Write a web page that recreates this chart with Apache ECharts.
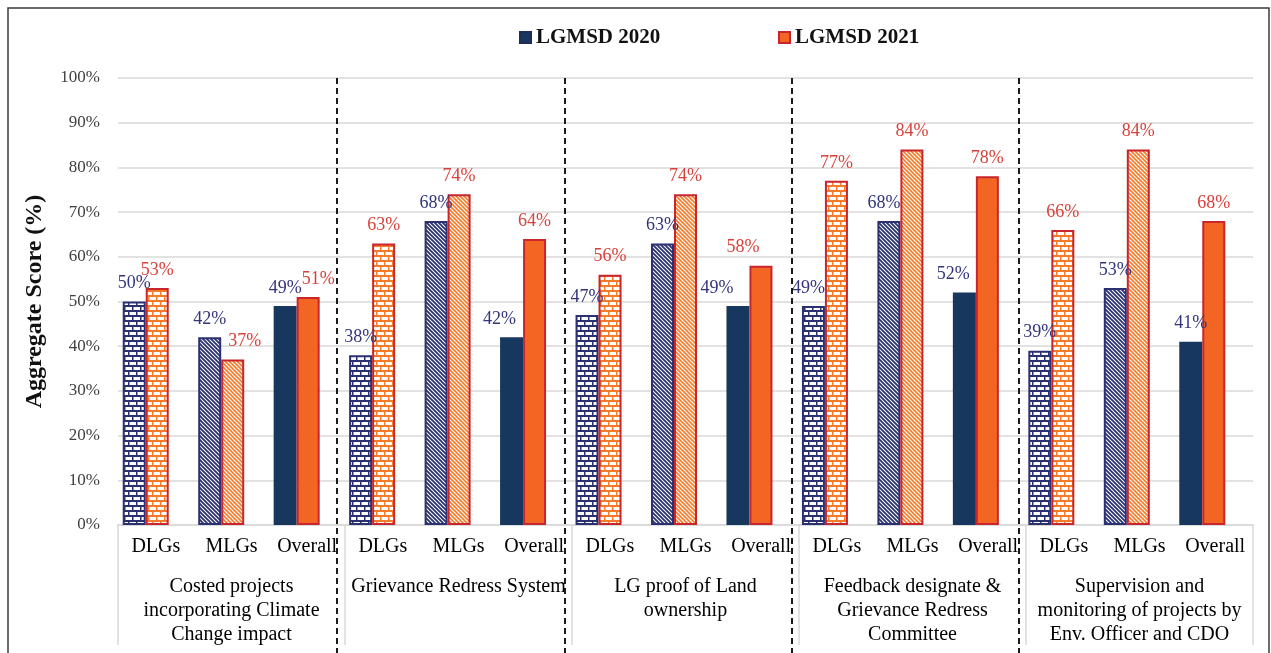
<!DOCTYPE html>
<html>
<head>
<meta charset="utf-8">
<script src="https://cdn.jsdelivr.net/npm/echarts@6/dist/echarts.min.js"></script>
<style>
html,body{margin:0;padding:0;background:#fff;}
#chart{width:1271px;height:653px;}
</style>
</head>
<body>
<div id="chart"></div>
<script>
// ---------- DATA ----------
const subCategories = ['DLGs','MLGs','Overall','DLGs','MLGs','Overall','DLGs','MLGs','Overall','DLGs','MLGs','Overall','DLGs','MLGs','Overall'];
const groupCategories = [
  'Costed projects\nincorporating Climate\nChange impact',
  'Grievance Redress System',
  'LG proof of Land\nownership',
  'Feedback designate &\nGrievance Redress\nCommittee',
  'Supervision and\nmonitoring of projects by\nEnv. Officer and CDO'
];
const seriesNames = ['LGMSD 2020', 'LGMSD 2021'];
const lgmsd2020 = [50, 42, 49, 38, 68, 42, 47, 63, 49, 49, 68, 52, 39, 53, 41];
const lgmsd2021 = [53, 37, 51, 63, 74, 64, 56, 74, 58, 77, 84, 78, 66, 84, 68];
const yTicks = [0, 10, 20, 30, 40, 50, 60, 70, 80, 90, 100];

// ---------- STYLE ----------
const FONT = "'Liberation Serif', 'DejaVu Serif', serif";
const NAVY = '#17375e', NAVY_LINE = '#2b3170', NAVY_LABEL = '#33357c';
const ORANGE = '#f26522', ORANGE_LINE = '#f47b2a', RED = '#c9252c', RED_LABEL = '#d8413b';

function brick(lineColor) {
  const c = document.createElement('canvas'); c.width = 8; c.height = 10;
  const g = c.getContext('2d');
  g.fillStyle = '#fff'; g.fillRect(0, 0, 8, 10);
  g.fillStyle = lineColor;
  g.fillRect(0, 0, 8, 2); g.fillRect(0, 5, 8, 2);
  g.fillRect(0, 2, 1.5, 3); g.fillRect(4, 7, 1.5, 3);
  return { image: c, repeat: 'repeat' };
}
function hatch(lineColor, w) {
  const c = document.createElement('canvas'); c.width = 4; c.height = 4;
  const g = c.getContext('2d');
  g.fillStyle = '#fff'; g.fillRect(0, 0, 4, 4);
  g.strokeStyle = lineColor; g.lineWidth = w;
  g.beginPath();
  g.moveTo(-1, -1); g.lineTo(5, 5);
  g.moveTo(-1, 3); g.lineTo(1, 5);
  g.moveTo(3, -1); g.lineTo(5, 1);
  g.stroke();
  return { image: c, repeat: 'repeat' };
}
const patterns2020 = [brick(NAVY_LINE), hatch(NAVY_LINE, 1.8), null];
const patterns2021 = [brick(ORANGE_LINE), hatch(ORANGE_LINE, 1.6), null];

// small manual label shifts seen in the reference (x offset px)
const labelShift2020 = {5: -12, 8: -21, 9: -5, 10: -5, 11: -11};
const labelShift2021 = {1: 12, 2: 10, 8: -18};

function buildData(values, pats, borderColor, solidBorderWidth, shifts) {
  return values.map((v, i) => {
    const p = pats[i % 3];
    const item = { value: v, itemStyle: {} };
    if (p) {
      item.itemStyle = { color: p, borderColor: borderColor, borderWidth: 2 };
    } else {
      item.itemStyle = { borderWidth: solidBorderWidth };
    }
    if (shifts[i] !== undefined) item.label = { offset: [shifts[i], 0] };
    return item;
  });
}

const separatorsX = [337, 565, 792, 1019];

const chart = echarts.init(document.getElementById('chart'));
const gridA = { left: 118, right: 18, top: 78, bottom: 128 };
const gridB = { left: 108, right: 31, top: 78, bottom: 128 };

const legendCommon = {
  top: 22, itemWidth: 11, itemHeight: 11, icon: 'rect',
  textStyle: { fontFamily: FONT, fontSize: 21, fontWeight: 'bold', color: '#111' }
};

chart.setOption({
  backgroundColor: '#fff',
  animation: false,
  legend: [
    Object.assign({ data: [seriesNames[0]], left: 514 }, legendCommon),
    Object.assign({ data: [seriesNames[1]], left: 773 }, legendCommon)
  ],
  grid: [gridA, gridA, gridB],
  xAxis: [
    { gridIndex: 0, type: 'category', data: subCategories, position: 'bottom',
      axisLine: { show: false }, axisTick: { show: false },
      axisLabel: { interval: 0, margin: 12, fontFamily: FONT, fontSize: 20, color: '#000' } },
    { gridIndex: 1, type: 'category', data: groupCategories, position: 'bottom',
      axisLine: { show: true, lineStyle: { color: '#d9d9d9', width: 1.5 } },
      axisTick: { show: true, length: 120, lineStyle: { color: '#d9d9d9', width: 1.5 } },
      axisLabel: { interval: 0, margin: 50, lineHeight: 24, fontFamily: FONT, fontSize: 20, color: '#000' } },
    { gridIndex: 2, type: 'category', data: subCategories, show: false }
  ],
  yAxis: [
    { gridIndex: 0, type: 'value', min: 0, max: 100, interval: 10,
      name: 'Aggregate Score (%)', nameLocation: 'middle', nameGap: 71,
      nameTextStyle: { fontFamily: FONT, fontSize: 24, fontWeight: 'bold', color: '#111' },
      axisLine: { show: false }, axisTick: { show: false },
      axisLabel: { margin: 18, fontFamily: FONT, fontSize: 17, color: '#404040',
        formatter: v => (yTicks.indexOf(v) >= 0 ? v + '%' : '') },
      splitLine: { lineStyle: { color: '#d9d9d9', width: 1.5 } } },
    { gridIndex: 1, type: 'value', min: 0, max: 100, show: false, splitLine: { show: false } },
    { gridIndex: 2, type: 'value', min: 0, max: 100, show: false, splitLine: { show: false } }
  ],
  series: [
    { name: seriesNames[0], type: 'bar', xAxisIndex: 2, yAxisIndex: 2,
      barWidth: 23, barGap: '0%',
      itemStyle: { color: NAVY, borderColor: '#1f2a5c', borderWidth: 1 },
      label: { show: true, position: 'top', distance: 9, fontFamily: FONT, fontSize: 18,
        color: NAVY_LABEL, formatter: p => p.value + '%' },
      data: buildData(lgmsd2020, patterns2020, NAVY_LINE, 0, labelShift2020) },
    { name: seriesNames[1], type: 'bar', xAxisIndex: 2, yAxisIndex: 2,
      barWidth: 23, barGap: '0%',
      itemStyle: { color: ORANGE, borderColor: RED, borderWidth: 2 },
      label: { show: true, position: 'top', distance: 9, fontFamily: FONT, fontSize: 18,
        color: RED_LABEL, formatter: p => p.value + '%' },
      data: buildData(lgmsd2021, patterns2021, RED, 2, labelShift2021) }
  ],
  graphic: [
    { type: 'rect', silent: true, z: 100,
      shape: { x: 8, y: 8, width: 1261, height: 700 },
      style: { fill: null, stroke: '#3a3a3a', lineWidth: 1.5 } }
  ].concat(separatorsX.map(x => ({
    type: 'line', silent: true, z: 100,
    shape: { x1: x, y1: 78, x2: x, y2: 653 },
    style: { stroke: '#1a1a1a', lineWidth: 2, lineDash: [6, 4] }
  })))
});
</script>
</body>
</html>
